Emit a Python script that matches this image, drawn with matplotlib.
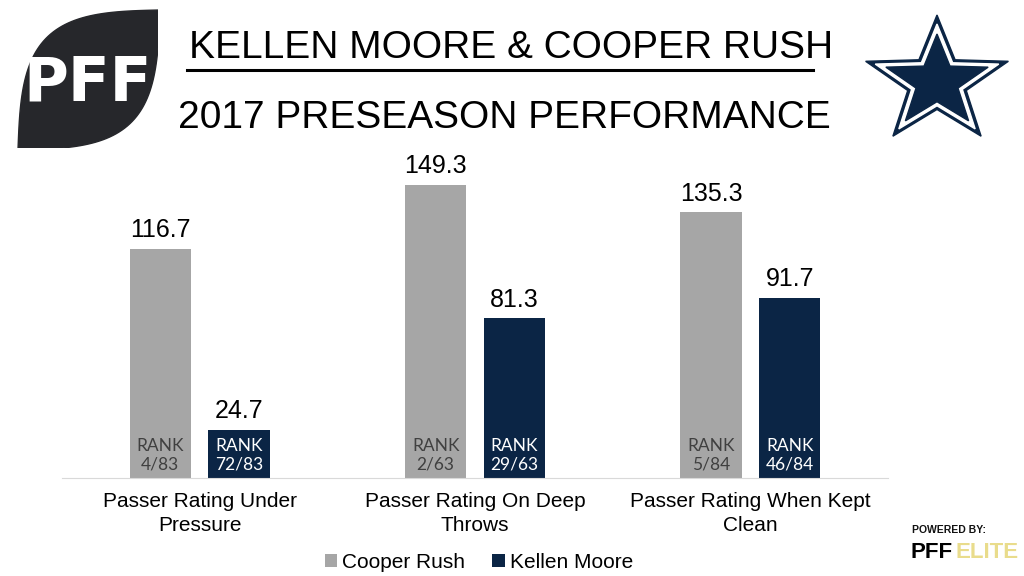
import numpy as np
import matplotlib; matplotlib.use("Agg")
import matplotlib.pyplot as plt
from matplotlib.patches import Polygon, Rectangle

plt.rcParams['font.family'] = ['Liberation Sans', 'DejaVu Sans']

categories = ["Passer Rating Under\nPressure", "Passer Rating On Deep\nThrows", "Passer Rating When Kept\nClean"]
players = ["Cooper Rush", "Kellen Moore"]
rush = [116.7, 149.3, 135.3]
moore = [24.7, 81.3, 91.7]
rush_rank = ["4/83", "2/63", "5/84"]
moore_rank = ["72/83", "29/63", "46/84"]

GRAY = "#A6A6A6"
NAVY = "#0B2545"

fig = plt.figure(figsize=(10.24, 5.76), dpi=100)
ax = fig.add_axes([62/1024, 98/576, 826/1024, 314/576])
x = np.arange(len(categories))
w, off = 0.222, 0.143
b1 = ax.bar(x - off, rush, w, color=GRAY, label=players[0])
b2 = ax.bar(x + off, moore, w, color=NAVY, label=players[1])
ax.set_xlim(-0.5, 2.5); ax.set_ylim(0, 160)
for s in ("top", "right", "left"): ax.spines[s].set_visible(False)
ax.spines["bottom"].set_color("#D9D9D9")
ax.set_yticks([])
ax.set_xticks(x, categories, fontsize=15, linespacing=1.35)
ax.tick_params(axis="x", length=0, pad=10)

for bars, vals, ranks, tc in ((b1, rush, rush_rank, "#404040"), (b2, moore, moore_rank, "white")):
    for b, v, r in zip(bars, vals, ranks):
        cx = b.get_x() + b.get_width()/2
        ax.annotate(f"{v:.1f}", (cx, v), xytext=(0, 5), textcoords="offset points",
                    ha="center", va="bottom", fontsize=18)
        ax.text(cx, 3, f"RANK\n{r}", ha="center", va="bottom", fontsize=12.5, color=tc,
                family=["Lato", "DejaVu Sans"], linespacing=1.2)

fig.legend(handles=[b1, b2], loc="center", bbox_to_anchor=(479/1024, 1-562/576), ncol=2,
           frameon=False, fontsize=15, handlelength=0.6, handleheight=0.6,
           handletextpad=0.25, columnspacing=1.3)

# titles
fig.text(511/1024, 1-48/576, "KELLEN MOORE & COOPER RUSH", ha="center", va="center", fontsize=28)
fig.add_artist(plt.Line2D([187/1024, 813/1024], [1-70/576, 1-70/576], color="black", lw=2.2))
fig.text(504/1024, 1-118/576, "2017 PRESEASON PERFORMANCE", ha="center", va="center", fontsize=28)

# overlay in pixel coords for logos
ov = fig.add_axes([0, 0, 1, 1], zorder=5); ov.set_xlim(0, 1024); ov.set_ylim(576, 0); ov.axis("off")

# PFF football logo
t = np.linspace(0, 1, 60)
p0, p1 = np.array([18, 150]), np.array([160, 10])
d = p1 - p0; nrm = np.array([-d[1], d[0]]) / np.linalg.norm(d)
L = np.linalg.norm(d)
arcA = [p0 + d*tt + nrm*np.sin(np.pi*tt)*L*0.30 for tt in t]
arcB = [p1 - d*tt - nrm*np.sin(np.pi*tt)*L*0.30 for tt in t]
lens = Polygon(np.array(arcA + arcB), closed=True, color="#26272B")
ov.add_patch(lens)
lens.set_clip_path(Rectangle((0, 0), 158, 148, transform=ov.transData))
ov.text(88, 84, "PFF", ha="center", va="center", color="white", fontsize=44,
        fontweight="bold", family="DejaVu Sans")

# Cowboys star
def star(cx, cy, R):
    ang = np.deg2rad(-90 + 36*np.arange(10))
    rr = np.where(np.arange(10) % 2 == 0, R, R*0.41)
    return np.c_[cx + rr*np.cos(ang)*1.12, cy + rr*np.sin(ang)]
for R, c in ((67, NAVY), (58, "white"), (48, NAVY)):
    ov.add_patch(Polygon(star(937, 82, R), closed=True, color=c))

# powered by
ov.text(912, 530, "POWERED BY:", ha="left", va="center", fontsize=7.5, fontweight="bold",
        color="#111111")
ov.text(911, 553, "PFF", ha="left", va="center", fontsize=16, fontweight="bold", color="black")
ov.text(1019, 553, "ELITE", ha="right", va="center", fontsize=16, fontweight="bold", color="#E9DC8C")

fig.savefig("out.png", dpi=100)
